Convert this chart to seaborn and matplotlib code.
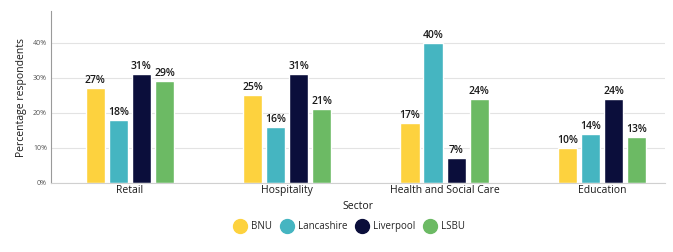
import matplotlib
matplotlib.use("Agg")
import matplotlib.pyplot as plt
from matplotlib.lines import Line2D
import pandas as pd
import seaborn as sns

sectors = ["Retail", "Hospitality", "Health and Social Care", "Education"]
universities = ["BNU", "Lancashire", "Liverpool", "LSBU"]
bnu = [27, 25, 17, 10]
lancashire = [18, 16, 40, 14]
liverpool = [31, 31, 7, 24]
lsbu = [29, 21, 24, 13]
colors = ["#FDD23E", "#45B5C1", "#0B0E3B", "#6CBA64"]

df = pd.DataFrame({
    "Sector": sectors * 4,
    "University": sum([[u] * 4 for u in universities], []),
    "Value": bnu + lancashire + liverpool + lsbu,
})

sns.set_style("white")
plt.rcParams["font.family"] = ["Open Sans", "DejaVu Sans"]

fig = plt.figure(figsize=(6.73, 2.52), dpi=100)
ax = fig.add_axes([0.076, 0.275, 0.912, 0.68])

sns.barplot(data=df, x="Sector", y="Value", hue="University", order=sectors,
            hue_order=universities, palette=colors, width=0.586, gap=0.17,
            legend=False, ax=ax, saturation=1)

for c in ax.containers:
    ax.bar_label(c, labels=[f"{v:.0f}%" for v in c.datavalues], padding=1.5,
                 fontsize=7.5, color="#1A1A1A", fontweight="semibold")

ax.set_ylim(0, 49)
ax.set_yticks([0, 10, 20, 30, 40])
ax.set_yticklabels([f"{t}%" for t in [0, 10, 20, 30, 40]], fontsize=5, color="#555555")
ax.tick_params(axis="x", labelsize=7.5, length=0, pad=2, labelcolor="#1A1A1A")
ax.tick_params(axis="y", length=0, pad=3)
ax.set_xlim(-0.5, 3.4)
ax.set_ylabel("Percentage respondents", fontsize=7.5, labelpad=4, color="#1A1A1A")
ax.set_xlabel("Sector", fontsize=7.5, labelpad=3, color="#1A1A1A")
ax.yaxis.grid(True, color="#E3E3E3", linewidth=0.8)
ax.set_axisbelow(True)
for s in ["top", "right"]:
    ax.spines[s].set_visible(False)
ax.spines["left"].set_color("#9A9A9A")
ax.spines["bottom"].set_color("#D0D0D0")
ax.spines["left"].set_linewidth(0.8)
ax.spines["bottom"].set_linewidth(0.8)

handles = [Line2D([], [], marker="o", linestyle="", markersize=10,
                  markerfacecolor=c, markeredgecolor=c) for c in colors]
fig.legend(handles, universities, loc="center", bbox_to_anchor=(0.517, 0.1),
           ncol=4, frameon=False, fontsize=7, handletextpad=0.15, columnspacing=0.5)

fig.savefig("out.png", dpi=100)
